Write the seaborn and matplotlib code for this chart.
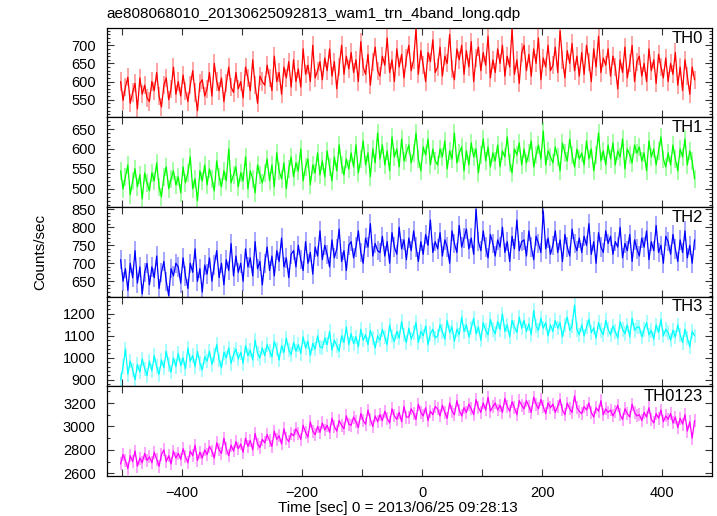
import numpy as np
import matplotlib
matplotlib.use("Agg")
import matplotlib.pyplot as plt
from matplotlib.ticker import MultipleLocator
import seaborn as sns

# light curves, 4 s bins starting at t = -502 s
t_start = -502
bin_width = 4

th0 = [600, 548, 585, 612, 540, 570, 595, 525, 610, 565, 590, 555,
       545, 600, 575, 625, 560, 530, 590, 610, 550, 580, 640, 565,
       600, 560, 618, 575, 545, 590, 630, 570, 520, 595, 605, 560,
       580, 625, 560, 650, 600, 575, 610, 545, 595, 640, 585, 570,
       625, 580, 600, 555, 640, 610, 575, 660, 590, 540, 615, 600,
       590, 645, 610, 575, 670, 600, 625, 565, 640, 610, 655, 585,
       660, 600, 635, 585, 690, 620, 645, 600, 700, 610, 630, 655,
       605, 665, 630, 690, 615, 655, 580, 640, 700, 620, 670, 635,
       680, 625, 660, 600, 710, 640, 620, 675, 590, 655, 695, 630,
       615, 670, 645, 720, 625, 660, 600, 690, 640, 675, 610, 665,
       700, 630, 660, 745, 620, 685, 645, 600, 680, 655, 715, 625,
       640, 695, 615, 670, 650, 730, 635, 605, 690, 660, 700, 620,
       685, 640, 710, 600, 665, 695, 630, 680, 645, 725, 610, 660,
       625, 690, 650, 700, 615, 670, 640, 745, 620, 660, 595, 680,
       700, 630, 675, 615, 690, 650, 720, 605, 665, 640, 700, 630,
       645, 695, 625, 740, 660, 610, 685, 650, 705, 630, 670, 615,
       680, 620, 700, 655, 600, 690, 640, 725, 625, 665, 645, 690,
       615, 670, 640, 580, 660, 625, 695, 610, 650, 700, 600, 655,
       670, 615, 650, 600, 690, 630, 660, 595, 675, 640, 610, 665,
       600, 650, 620, 680, 590, 640, 575, 660, 615, 565, 640, 605]

th1 = [545, 500, 530, 560, 485, 520, 550, 505, 535, 475, 540, 515,
       495, 540, 520, 565, 505, 480, 530, 555, 500, 525, 545, 510,
       530, 490, 555, 515, 540, 580, 500, 525, 470, 545, 520, 560,
       510, 550, 525, 495, 570, 530, 505, 545, 520, 600, 515, 535,
       555, 505, 540, 520, 580, 500, 545, 525, 490, 560, 535, 515,
       540, 575, 520, 560, 505, 590, 545, 525, 565, 500, 550, 580,
       530, 565, 545, 600, 520, 555, 575, 510, 560, 540, 590, 535,
       570, 530, 595, 555, 520, 580, 545, 610, 560, 535, 575, 550,
       590, 555, 610, 540, 575, 620, 560, 590, 530, 600, 565, 640,
       575, 610, 560, 595, 545, 630, 580, 600, 555, 625, 570, 590,
       610, 565, 590, 640, 575, 545, 605, 585, 625, 560, 600, 570,
       560, 600, 580, 620, 550, 595, 575, 640, 565, 590, 605, 545,
       595, 560, 615, 580, 600, 540, 585, 625, 570, 605, 555, 590,
       570, 610, 555, 595, 580, 630, 565, 540, 600, 585, 615, 560,
       600, 565, 590, 620, 555, 585, 610, 575, 645, 560, 595, 580,
       565, 605, 580, 545, 615, 590, 570, 625, 585, 555, 600, 575,
       590, 560, 620, 575, 600, 545, 585, 640, 570, 595, 560, 610,
       575, 615, 560, 595, 580, 625, 550, 600, 585, 565, 610, 590,
       605, 570, 590, 545, 620, 580, 600, 560, 595, 630, 575, 555,
       590, 560, 610, 575, 545, 600, 580, 625, 560, 595, 570, 525]

th2 = [710, 650, 685, 625, 700, 660, 735, 645, 690, 615, 675, 700,
       640, 690, 660, 720, 630, 675, 705, 650, 610, 685, 665, 700,
       690, 645, 715, 665, 630, 700, 675, 740, 650, 685, 620, 695,
       670, 715, 650, 695, 735, 660, 700, 640, 710, 680, 755, 665,
       720, 675, 700, 650, 740, 690, 715, 665, 760, 685, 705, 640,
       700, 745, 680, 720, 665, 735, 705, 770, 690, 715, 660, 725,
       735, 690, 750, 710, 680, 760, 700, 730, 670, 745, 720, 790,
       710, 750, 725, 690, 765, 715, 740, 795, 705, 735, 680, 750,
       760, 715, 745, 790, 730, 700, 770, 745, 810, 720, 755, 735,
       730, 775, 720, 760, 700, 785, 745, 725, 800, 740, 765, 710,
       770, 735, 790, 745, 705, 760, 725, 780, 750, 820, 730, 760,
       740, 785, 720, 765, 745, 700, 790, 755, 730, 805, 745, 770,
       795, 740, 770, 725, 850, 760, 735, 790, 745, 715, 780, 755,
       720, 765, 745, 800, 730, 760, 705, 775, 740, 820, 735, 760,
       765, 720, 790, 745, 710, 775, 755, 730, 845, 740, 770, 725,
       750, 790, 730, 765, 705, 780, 745, 720, 795, 755, 735, 770,
       730, 775, 750, 810, 725, 760, 700, 785, 745, 730, 790, 755,
       775, 725, 760, 745, 800, 715, 755, 735, 780, 705, 765, 740,
       720, 770, 745, 790, 710, 760, 735, 805, 730, 750, 700, 775,
       760, 725, 780, 740, 705, 765, 730, 790, 715, 750, 700, 765]

th3 = [900, 960, 1040, 925, 985, 945, 900, 970, 935, 995, 950, 920,
       985, 940, 1010, 960, 925, 990, 955, 1030, 970, 935, 1000, 960,
       1020, 965, 1000, 950, 1045, 985, 1010, 960, 1030, 975, 945, 1005,
       985, 1030, 970, 1010, 1060, 990, 955, 1025, 1000, 1045, 975, 1015,
       1040, 995, 1025, 975, 1055, 1010, 1035, 990, 1080, 1020, 1000, 1045,
       1010, 1060, 1030, 1005, 1075, 1040, 990, 1055, 1025, 1090, 1035, 1015,
       1070, 1030, 1060, 1020, 1095, 1045, 1075, 1010, 1065, 1040, 1100, 1050,
       1045, 1090, 1060, 1120, 1035, 1080, 1055, 1030, 1100, 1070, 1140, 1060,
       1110, 1065, 1095, 1050, 1130, 1080, 1105, 1060, 1125, 1090, 1045, 1100,
       1080, 1130, 1095, 1060, 1150, 1100, 1075, 1120, 1090, 1165, 1105, 1070,
       1135, 1085, 1115, 1160, 1070, 1120, 1100, 1145, 1060, 1110, 1130, 1090,
       1100, 1150, 1120, 1085, 1170, 1115, 1140, 1075, 1130, 1105, 1185, 1120,
       1150, 1095, 1135, 1180, 1110, 1140, 1080, 1160, 1125, 1105, 1175, 1130,
       1110, 1165, 1130, 1200, 1120, 1150, 1095, 1170, 1140, 1115, 1185, 1135,
       1170, 1120, 1155, 1105, 1215, 1145, 1125, 1180, 1135, 1160, 1100, 1150,
       1120, 1170, 1135, 1160, 1095, 1150, 1185, 1125, 1145, 1240, 1130, 1105,
       1150, 1100, 1140, 1175, 1115, 1135, 1090, 1160, 1125, 1105, 1170, 1130,
       1105, 1145, 1120, 1090, 1165, 1130, 1110, 1150, 1095, 1180, 1125, 1140,
       1140, 1095, 1130, 1160, 1105, 1125, 1085, 1150, 1115, 1175, 1100, 1130,
       1115, 1080, 1125, 1095, 1150, 1105, 1070, 1130, 1090, 1050, 1120, 1100]

th0123 = [2680, 2760, 2710, 2640, 2750, 2700, 2790, 2660, 2730, 2690, 2770, 2710,
          2740, 2690, 2780, 2720, 2660, 2760, 2800, 2700, 2750, 2680, 2790, 2730,
          2770, 2720, 2810, 2740, 2690, 2790, 2750, 2840, 2710, 2780, 2730, 2800,
          2760, 2830, 2790, 2730, 2860, 2800, 2770, 2900, 2810, 2750, 2840, 2790,
          2870, 2810, 2850, 2780, 2900, 2830, 2880, 2800, 2940, 2850, 2820, 2890,
          2860, 2930, 2880, 2830, 2960, 2890, 2920, 2850, 2980, 2900, 2870, 2940,
          2920, 2980, 2940, 2890, 3010, 2950, 2910, 3040, 2960, 2930, 3000, 2950,
          3030, 2970, 3010, 2950, 3070, 3000, 2960, 3050, 3010, 2980, 3090, 3020,
          3010, 3080, 3040, 2990, 3110, 3050, 3020, 3140, 3060, 3000, 3090, 3040,
          3100, 3050, 3130, 3070, 3030, 3150, 3090, 3060, 3120, 3040, 3170, 3080,
          3080, 3150, 3110, 3060, 3190, 3120, 3090, 3160, 3050, 3130, 3100, 3170,
          3150, 3090, 3180, 3120, 3070, 3200, 3130, 3100, 3220, 3140, 3090, 3160,
          3120, 3190, 3150, 3100, 3230, 3160, 3120, 3200, 3140, 3250, 3130, 3170,
          3200, 3140, 3180, 3120, 3240, 3170, 3130, 3210, 3160, 3100, 3220, 3180,
          3150, 3220, 3170, 3120, 3250, 3190, 3150, 3230, 3170, 3110, 3200, 3160,
          3190, 3120, 3170, 3230, 3140, 3100, 3200, 3150, 3120, 3260, 3160, 3130,
          3110, 3170, 3140, 3200, 3120, 3080, 3160, 3130, 3220, 3100, 3150, 3120,
          3140, 3090, 3130, 3180, 3100, 3060, 3150, 3110, 3080, 3190, 3120, 3090,
          3100, 3050, 3120, 3080, 3160, 3060, 3030, 3110, 3070, 3140, 3040, 3090,
          3060, 3110, 3030, 3080, 2990, 3070, 3020, 3100, 2960, 3040, 2900, 3050]

bands = ["TH0", "TH1", "TH2", "TH3", "TH0123"]
series = [th0, th1, th2, th3, th0123]
errors = [25, 23, 27, 33, 55]
colors = ["#ff0000", "#00ff00", "#0000ff", "#00ffff", "#ff00ff"]
ylims = [(501, 748), (454, 679), (607, 856), (870, 1278), (2577, 3342)]
ymajor = [50, 50, 50, 100, 200]
yminor = [10, 10, 10, 20, 100]

sns.set_style("ticks")
plt.rcParams["font.family"] = ["Liberation Sans", "DejaVu Sans"]
plt.rcParams["text.color"] = "black"
plt.rcParams["xtick.labelcolor"] = "black"
plt.rcParams["ytick.labelcolor"] = "black"

fig, axes = plt.subplots(5, 1, sharex=True, figsize=(7.17, 5.16), dpi=100)
fig.subplots_adjust(left=0.149, right=0.993, top=0.946, bottom=0.0775, hspace=0)

for ax, name, y, err, col, yl, ma, mi in zip(axes, bands, series, errors, colors,
                                            ylims, ymajor, yminor):
    t = t_start + bin_width * np.arange(len(y))
    ax.errorbar(t, y, yerr=err, fmt="none", ecolor=col,
                alpha=0.45, elinewidth=1.1)
    sns.lineplot(x=t, y=y, ax=ax, color=col, lw=0.9, estimator=None)
    ax.set_ylim(*yl)
    ax.set_xlim(-525, 483)
    ax.yaxis.set_major_locator(MultipleLocator(ma))
    ax.yaxis.set_minor_locator(MultipleLocator(mi))
    ax.xaxis.set_major_locator(MultipleLocator(200))
    ax.xaxis.set_minor_locator(MultipleLocator(100))
    ax.tick_params(which="both", direction="in", top=True, right=True,
                   labelsize=10.5, width=0.8, color="#333333",
                   labelcolor="black")
    ax.tick_params(axis="x", which="both", length=5, pad=7)
    ax.tick_params(axis="y", which="major", length=5, pad=8)
    ax.tick_params(axis="y", which="minor", length=2.5)
    ax.text(0.985, 0.97, name, transform=ax.transAxes, ha="right", va="top",
            fontsize=12, color="black")
    for s in ax.spines.values():
        s.set_linewidth(0.9)
        s.set_color("black")

fig.text(0.149, 0.973, "ae808068010_20130625092813_wam1_trn_4band_long.qdp",
         ha="left", va="center", fontsize=11)
fig.text(0.056, 0.512, "Counts/sec", rotation=90, ha="center", va="center",
         fontsize=11)
fig.text(0.555, 0.016, "Time [sec] 0 = 2013/06/25 09:28:13", ha="center",
         va="center", fontsize=11)

fig.savefig("out.png", dpi=100)
